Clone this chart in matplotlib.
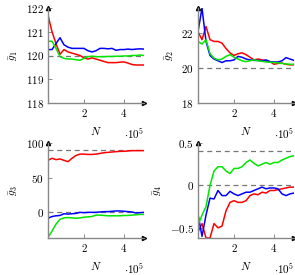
import numpy as np
import matplotlib
matplotlib.use('Agg')
import matplotlib.pyplot as plt

plt.rcParams['mathtext.fontset'] = 'cm'
plt.rcParams['font.family'] = 'serif'
plt.rcParams['font.serif'] = ['DejaVu Serif']

# sample sizes, in units of 1e5
N = np.arange(1, 26) * 0.2

g1_red = [121.7, 121.0, 120.5, 120.05, 120.25, 120.15, 120.1, 120.05, 120.0, 119.9, 119.85, 119.9, 119.85,
          119.8, 119.75, 119.7, 119.7, 119.7, 119.72, 119.73, 119.68, 119.62, 119.6, 119.6, 119.6]
g1_blue = [120.25, 120.25, 120.5, 120.75, 120.45, 120.35, 120.3, 120.3, 120.3, 120.3, 120.2, 120.15, 120.2,
           120.3, 120.3, 120.28, 120.3, 120.22, 120.25, 120.25, 120.27, 120.25, 120.27, 120.28, 120.27]
g1_green = [120.6, 120.6, 120.3, 119.95, 119.88, 119.85, 119.85, 119.82, 119.8, 119.88, 119.95, 119.97, 119.95,
            119.95, 119.95, 119.96, 119.96, 119.97, 119.97, 119.98, 119.98, 120.0, 120.0, 120.02, 120.0]

g2_red = [22.05, 21.6, 22.35, 21.6, 21.5, 21.5, 21.4, 21.1, 20.85, 20.7, 20.8, 20.85, 20.75,
          20.6, 20.45, 20.5, 20.45, 20.4, 20.35, 20.2, 20.25, 20.27, 20.2, 20.17, 20.17]
g2_blue = [22.05, 23.4, 21.5, 20.7, 20.5, 20.4, 20.3, 20.4, 20.4, 20.45, 20.65, 20.6, 20.5,
           20.45, 20.42, 20.42, 20.4, 20.45, 20.35, 20.33, 20.33, 20.4, 20.58, 20.5, 20.42]
g2_green = [21.5, 21.35, 21.6, 20.8, 20.55, 20.45, 20.5, 20.65, 20.75, 20.6, 20.5, 20.4, 20.35,
            20.4, 20.45, 20.4, 20.37, 20.33, 20.32, 20.3, 20.28, 20.25, 20.22, 20.2, 20.2]

g3_red = [75, 78, 76, 77, 75, 73, 78, 82, 84, 84, 83.5, 83.5, 84,
          85, 86, 86.5, 87, 87.5, 88, 88, 88.5, 89, 89, 89, 89]
g3_blue = [-8.5, -6, -5, -4.5, -2, -2.5, -2, -1.5, 0, -0.5, 0, 0, 0,
           0.5, 1, 1, 1.5, 2, 2, 1.5, 1, 0.5, -1, -0.5, 0]
g3_green = [-36, -27, -17, -10, -8, -7.5, -8, -8.5, -8, -7, -6.5, -6, -4,
            -4, -4.5, -5, -5, -5, -5, -4.5, -4.5, -4, -3.5, -3, -3]

g4_red = [-0.55, -0.45, -0.62, -0.62, -0.45, -0.5, -0.48, -0.3, -0.2, -0.18, -0.2, -0.2, -0.18,
          -0.12, -0.1, -0.11, -0.08, -0.09, -0.06, -0.06, -0.05, -0.04, -0.03, -0.02, -0.02]
g4_blue = [-0.34, -0.6, -0.35, -0.15, -0.16, -0.06, -0.12, -0.12, -0.07, -0.1, -0.12, -0.1, -0.08,
           -0.08, -0.06, -0.04, -0.02, -0.04, -0.03, -0.03, -0.04, -0.1, -0.12, -0.1, -0.09]
g4_green = [-0.47, -0.35, -0.25, 0.0, 0.17, 0.22, 0.22, 0.17, 0.14, 0.2, 0.2, 0.22, 0.27,
            0.3, 0.26, 0.23, 0.25, 0.27, 0.25, 0.27, 0.27, 0.3, 0.32, 0.34, 0.35]

panels = [
    (r'$\bar{g}_1$', (g1_red, g1_blue, g1_green), [120], (118, 122), [118, 119, 120, 121, 122], ['118', '119', '120', '121', '122']),
    (r'$\bar{g}_2$', (g2_red, g2_blue, g2_green), [20], (18, 23.4), [18, 20, 22], ['18', '20', '22']),
    (r'$\bar{g}_3$', (g3_red, g3_blue, g3_green), [90, 0], (-37, 100), [0, 50, 100], ['0', '50', '100']),
    (r'$\bar{g}_4$', (g4_red, g4_blue, g4_green), [0.4, 0], (-0.62, 0.5), [-0.5, 0, 0.5], ['-0.5', '0', '0.5']),
]

W, H = 295, 275
fig = plt.figure(figsize=(W / 100, H / 100), dpi=100)
boxes = [(48, 8, 96, 95), (198, 8, 96, 95), (48, 143, 96, 95), (198, 143, 96, 95)]
colors = ['#ff0000', '#0000ff', '#00e600']

for (ylab, series, refs, ylim, yt, ytl), (x0, y0, w, h) in zip(panels, boxes):
    ax = fig.add_axes([x0 / W, 1 - (y0 + h) / H, w / W, h / H])
    for r in refs:
        ax.axhline(r, color='#777777', ls=(0, (4, 3)), lw=0.9)
    for s, c in zip(series, colors):
        ax.plot(N, s, color=c, lw=1.1)
    ax.set_xlim(0.2, 5.0)
    ax.set_ylim(*ylim)
    ax.set_xticks([2, 4])
    ax.set_xticklabels(['$2$', '$4$'], fontsize=8)
    ax.set_yticks(yt)
    ax.set_yticklabels(['$' + t + '$' for t in ytl], fontsize=8)
    ax.tick_params(direction='in', length=3, width=0.6, color='#777777', pad=3)
    for sp in ['top', 'right']:
        ax.spines[sp].set_visible(False)
    for sp in ['left', 'bottom']:
        ax.spines[sp].set_color('#888888')
        ax.spines[sp].set_linewidth(1.0)
    ax.plot([1], [0], '>', color='black', ms=3, transform=ax.transAxes, clip_on=False)
    ax.plot([0], [1], '^', color='black', ms=3, transform=ax.transAxes, clip_on=False)
    ax.set_ylabel(ylab, fontsize=8, labelpad=4)
    ax.text(0.5, -0.29, '$N$', transform=ax.transAxes, ha='center', va='center', fontsize=8)
    ax.text(1.0, -0.32, r'$\cdot 10^5$', transform=ax.transAxes, ha='right', va='center', fontsize=8)

fig.savefig('out.png', dpi=100)
